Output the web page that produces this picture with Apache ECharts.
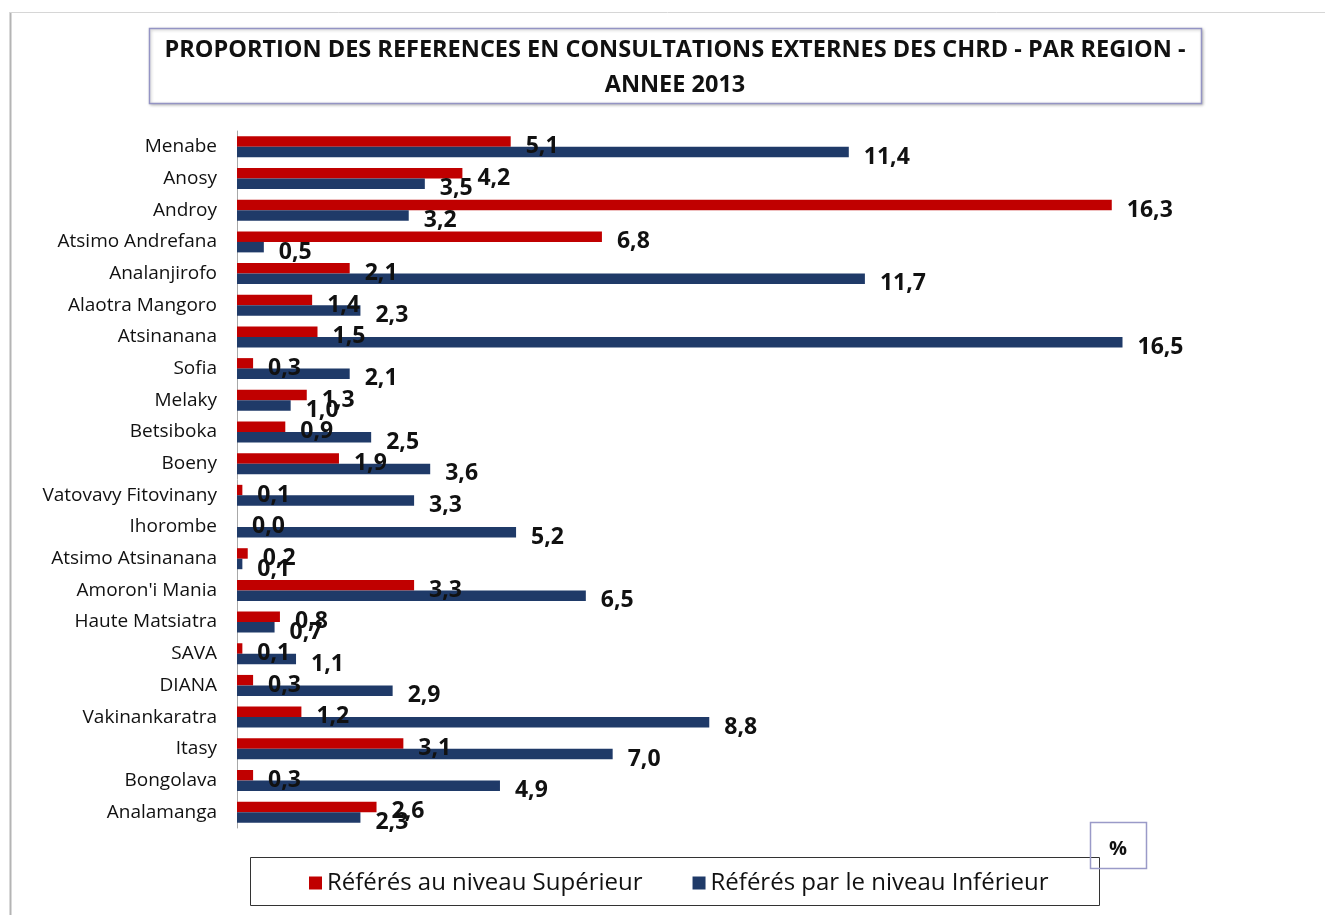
<!DOCTYPE html>
<html>
<head>
<meta charset="utf-8">
<script src="https://cdn.jsdelivr.net/npm/echarts@6/dist/echarts.min.js"></script>
<style>
  html, body { margin: 0; padding: 0; background: #fff; }
  #chart { width: 1325px; height: 915px; }
</style>
</head>
<body>
<div id="chart"></div>
<script>
// regions, top to bottom
var regions = ['Menabe', 'Anosy', 'Androy', 'Atsimo Andrefana', 'Analanjirofo', 'Alaotra Mangoro',
  'Atsinanana', 'Sofia', 'Melaky', 'Betsiboka', 'Boeny', 'Vatovavy Fitovinany', 'Ihorombe',
  'Atsimo Atsinanana', "Amoron'i Mania", 'Haute Matsiatra', 'SAVA', 'DIANA', 'Vakinankaratra',
  'Itasy', 'Bongolava', 'Analamanga'];

// Référés au niveau Supérieur
var superieur = [5.1, 4.2, 16.3, 6.8, 2.1, 1.4, 1.5, 0.3, 1.3, 0.9, 1.9, 0.1, 0.0, 0.2, 3.3, 0.8, 0.1, 0.3, 1.2, 3.1, 0.3, 2.6];
// Référés par le niveau Inférieur
var inferieur = [11.4, 3.5, 3.2, 0.5, 11.7, 2.3, 16.5, 2.1, 1.0, 2.5, 3.6, 3.3, 5.2, 0.1, 6.5, 0.7, 1.1, 2.9, 8.8, 7.0, 4.9, 2.3];

var seriesNames = ['Référés au niveau Supérieur', 'Référés par le niveau Inférieur'];
var titleLines = ['PROPORTION DES REFERENCES EN CONSULTATIONS EXTERNES DES CHRD - PAR REGION -', 'ANNEE 2013'];

var chart = echarts.init(document.getElementById('chart'));

function fmt(p) {
  return p.value.toFixed(1).replace('.', ',');
}

var labelStyle = {
  show: true,
  position: 'right',
  distance: 15,
  offset: [0, 5],
  formatter: fmt,
  fontFamily: 'Open Sans',
  fontSize: 23,
  fontWeight: 'bold',
  color: '#111'
};

var option = {
  backgroundColor: '#fff',
  animation: false,
  grid: { left: 237, top: 131, height: 697, width: 966 },
  xAxis: {
    type: 'value',
    min: 0,
    max: 18,
    show: false
  },
  yAxis: {
    type: 'category',
    data: regions,
    inverse: true,
    axisLine: { lineStyle: { color: '#a8a8a8', width: 1 } },
    axisTick: { show: false },
    axisLabel: {
      margin: 20,
      fontFamily: 'Open Sans',
      fontSize: 19,
      color: '#111'
    }
  },
  legend: {
    data: seriesNames,
    left: 304,
    top: 866,
    itemWidth: 13,
    itemHeight: 13,
    itemGap: 50,
    icon: 'rect',
    textStyle: { fontFamily: 'Open Sans', fontSize: 24, color: '#111' }
  },
  series: [
    {
      name: seriesNames[0],
      type: 'bar',
      data: superieur,
      barWidth: 10.5,
      barGap: '0%',
      itemStyle: { color: '#c00000' },
      label: labelStyle
    },
    {
      name: seriesNames[1],
      type: 'bar',
      data: inferieur,
      barWidth: 10.5,
      itemStyle: { color: '#1f3a68' },
      label: labelStyle
    }
  ],
  graphic: [
    // chart area border
    { type: 'line', shape: { x1: 10.5, y1: 12, x2: 10.5, y2: 915 }, style: { stroke: '#b4b4b4', lineWidth: 2 } },
    { type: 'line', shape: { x1: 10, y1: 12.5, x2: 1325, y2: 12.5 }, style: { stroke: '#d6d6d6', lineWidth: 1 } },
    // title box
    {
      type: 'rect',
      shape: { x: 149.5, y: 28.5, width: 1052, height: 75 },
      style: { fill: '#fff', stroke: '#9494c4', lineWidth: 1.5, shadowColor: 'rgba(0,0,0,0.25)', shadowBlur: 3, shadowOffsetX: 1, shadowOffsetY: 1 }
    },
    {
      type: 'text', x: 675, y: 50,
      style: { text: titleLines[0], textAlign: 'center', textVerticalAlign: 'middle', fontFamily: 'Open Sans', fontWeight: 'bold', fontSize: 23.5, fill: '#111' }
    },
    {
      type: 'text', x: 675, y: 85,
      style: { text: titleLines[1], textAlign: 'center', textVerticalAlign: 'middle', fontFamily: 'Open Sans', fontWeight: 'bold', fontSize: 23.5, fill: '#111' }
    },
    // legend box
    {
      type: 'rect', z: -1,
      shape: { x: 250.5, y: 857.5, width: 849, height: 48 },
      style: { fill: '#fff', stroke: '#333', lineWidth: 1 }
    },
    // unit box
    {
      type: 'rect',
      shape: { x: 1090.5, y: 822.5, width: 56, height: 46 },
      style: { fill: 'rgba(255,255,255,0)', stroke: '#9a9ac8', lineWidth: 1.5 }
    },
    {
      type: 'text', x: 1118, y: 849,
      style: { text: '%', textAlign: 'center', textVerticalAlign: 'middle', fontFamily: 'Open Sans', fontWeight: 'bold', fontSize: 20, fill: '#111' }
    }
  ]
};

chart.setOption(option);
</script>
</body>
</html>
